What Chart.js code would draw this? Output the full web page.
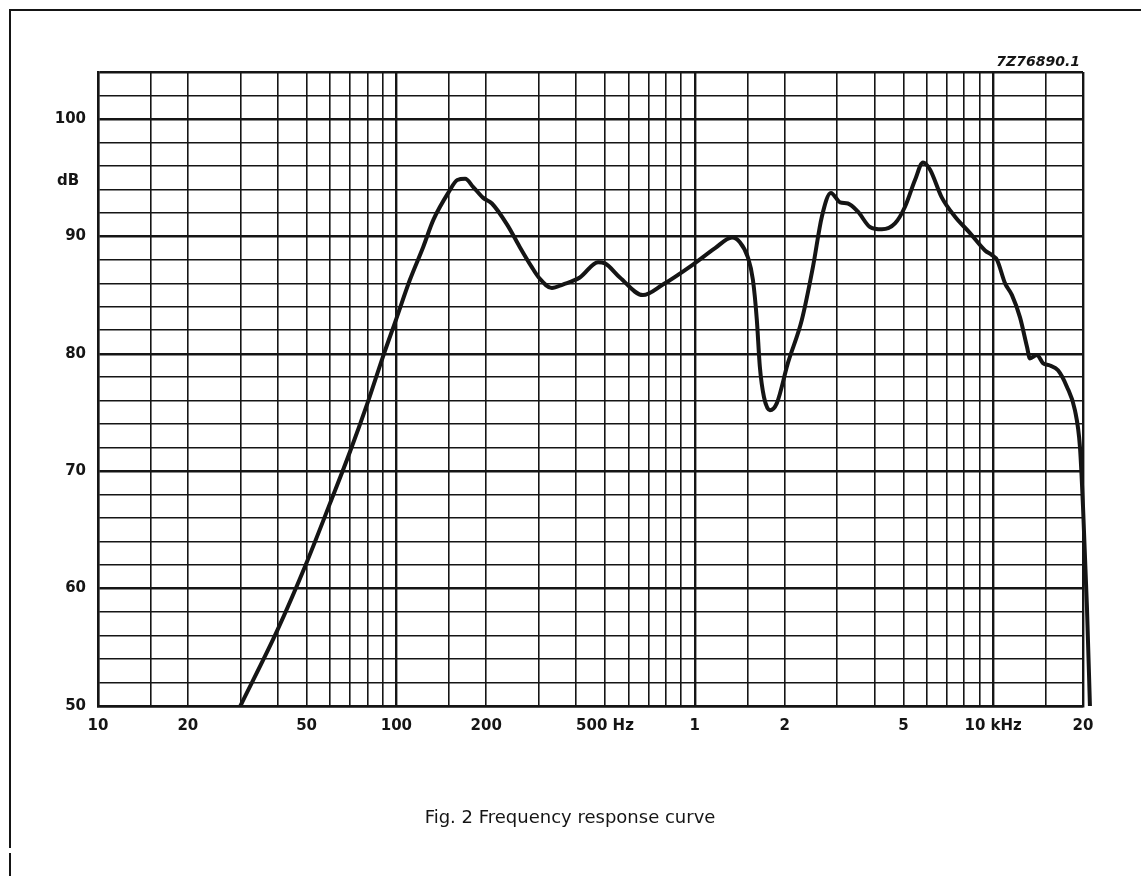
<!DOCTYPE html>
<html>
<head>
<meta charset="utf-8">
<title>Fig. 2 Frequency response curve</title>
<script src="https://cdn.jsdelivr.net/npm/chart.js@4.4.1/dist/chart.umd.min.js"></script>
<style>
    html, body { margin: 0; padding: 0; background: #fff; }
    #wrap { width: 1141px; height: 876px; }
</style>
</head>
<body>
<div id="wrap"><canvas id="responseChart" width="1141" height="876"></canvas></div>
<script>
// (Hz, dB)
const freqHz = [
    30, 40, 50, 60, 70, 80, 90, 100, 111, 123, 133, 150, 160, 170, 181, 195, 209,
    235, 259, 284, 300, 332, 361, 412, 474, 500, 561, 670, 782, 986,
    1170, 1333, 1416, 1507, 1566, 1614, 1652, 1706, 1786, 1884, 2051, 2285, 2489, 2667, 2859,
    3068, 3260, 3523, 3864, 4237, 4688, 5060, 5470, 5820, 6140, 6730, 7440, 8350, 9390, 9910,
    10300, 10960, 11560, 12300, 12980, 13280, 14020, 14690, 15500, 16490, 17660, 18790, 19530,
    20000, 20620, 21100
];
const levelDb = [
    50.0, 56.5, 62.2, 67.3, 71.7, 75.8, 79.7, 83.0, 86.3, 89.1, 91.4, 93.8, 94.8, 94.9, 94.2, 93.3, 92.8,
    91.0, 89.1, 87.4, 86.5, 85.6, 85.9, 86.5, 87.8, 87.7, 86.5, 85.0, 85.9, 87.6,
    89.0, 89.9, 89.5, 88.2, 86.3, 82.9, 78.9, 76.3, 75.2, 75.8, 79.2, 82.9, 87.4, 91.7, 93.7,
    92.9, 92.8, 92.1, 90.8, 90.6, 91.1, 92.5, 94.8, 96.3, 95.7, 93.3, 91.7, 90.3, 88.8, 88.4,
    88.0, 86.0, 85.0, 83.1, 80.6, 79.6, 79.9, 79.2, 79.0, 78.6, 77.2, 75.2, 72.1,
    67.0, 58.4, 50.0
];

const xTickValues = [10, 20, 50, 100, 200, 500, 1000, 2000, 5000, 10000, 20000];
const xTickLabels = ['10', '20', '50', '100', '200', '500 Hz', '1', '2', '5', '10 kHz', '20'];
const xMajor = [10, 100, 1000, 10000, 20000];
const xGridSteps = [1, 1.5, 2, 3, 4, 5, 6, 7, 8, 9];

const yTickValues = [50, 60, 70, 80, 90, 100];
const yUnitLabel = 'dB';
const yUnitAt = 94.7;

const drawingCode = '7Z76890.1';
const caption = 'Fig. 2 Frequency response curve';

const ink = '#151515';
const labelFont = { family: 'DejaVu Sans', size: 15, weight: 'bold' };

// log grid: 1, 1.5, 2 ... 9 in every decade up to 20 kHz
const xGrid = [];
for (let d = 10; d <= 10000; d *= 10) {
    xGridSteps.forEach(m => { if (m * d <= 20000) xGrid.push(m * d); });
}
const yGrid = [];
for (let v = 50; v <= 104; v += 2) yGrid.push(v);

// paper frame, drawing code, unit and caption
const paperPlugin = {
    id: 'paper',
    beforeDraw(chart) {
        const ctx = chart.ctx;
        ctx.save();
        ctx.fillStyle = '#fff';
        ctx.fillRect(0, 0, chart.width, chart.height);
        ctx.strokeStyle = ink;
        ctx.lineWidth = 2;
        ctx.beginPath();
        ctx.moveTo(chart.width, 10);
        ctx.lineTo(10, 10);
        ctx.lineTo(10, 848);
        ctx.moveTo(10, 853);
        ctx.lineTo(10, chart.height);
        ctx.stroke();
        ctx.restore();
    },
    afterDraw(chart) {
        const ctx = chart.ctx;
        const area = chart.chartArea;
        ctx.save();
        ctx.fillStyle = ink;
        ctx.font = 'italic bold 14px "DejaVu Sans"';
        ctx.textAlign = 'right';
        ctx.textBaseline = 'alphabetic';
        ctx.fillText(drawingCode, area.right - 3, area.top - 6);

        ctx.font = 'bold 15px "DejaVu Sans"';
        ctx.textAlign = 'center';
        ctx.textBaseline = 'middle';
        ctx.fillText(yUnitLabel, 68, chart.scales.y.getPixelForValue(yUnitAt));

        ctx.font = '18px "DejaVu Sans"';
        ctx.fillText(caption, 570, 818);
        ctx.restore();
    }
};

const ctx = document.getElementById('responseChart').getContext('2d');
new Chart(ctx, {
    type: 'line',
    data: {
        datasets: [{
            data: freqHz.map((f, i) => ({ x: f, y: levelDb[i] })),
            borderColor: ink,
            borderWidth: 4,
            pointRadius: 0,
            fill: false,
            cubicInterpolationMode: 'monotone',
            clip: false
        }]
    },
    options: {
        responsive: false,
        animation: false,
        layout: {
            padding: { top: 72, right: 58, left: 0, bottom: 0 }
        },
        plugins: {
            legend: { display: false },
            tooltip: { enabled: false }
        },
        scales: {
            x: {
                type: 'logarithmic',
                bounds: 'data',
                // bounds set here so the curve's tail past 20 kHz is still drawn
                afterDataLimits: s => { s.min = 10; s.max = 20000; },
                afterBuildTicks: s => { s.ticks = xGrid.map(v => ({ value: v })); },
                afterFit: s => { s.height = 170; },
                border: { display: true, color: ink, width: 2.4 },
                grid: {
                    color: ink,
                    drawTicks: false,
                    lineWidth: c => (c.tick && xMajor.includes(c.tick.value)) ? 2.4 : 1.6
                },
                ticks: {
                    autoSkip: false,
                    maxRotation: 0,
                    padding: 11,
                    color: ink,
                    font: labelFont,
                    callback: value => {
                        const i = xTickValues.indexOf(value);
                        return i >= 0 ? xTickLabels[i] : '';
                    }
                }
            },
            y: {
                type: 'linear',
                min: 50,
                max: 104,
                afterBuildTicks: s => { s.ticks = yGrid.map(v => ({ value: v })); },
                afterFit: s => { s.width = 98; },
                border: { display: true, color: ink, width: 2.4 },
                grid: {
                    color: ink,
                    drawTicks: false,
                    lineWidth: c => (c.tick && (c.tick.value % 10 === 0 || c.tick.value === 104)) ? 2.4 : 1.6
                },
                ticks: {
                    autoSkip: false,
                    padding: 12,
                    color: ink,
                    font: labelFont,
                    callback: value => yTickValues.includes(value) ? String(value) : ''
                }
            }
        }
    },
    plugins: [paperPlugin]
});
</script>
</body>
</html>
